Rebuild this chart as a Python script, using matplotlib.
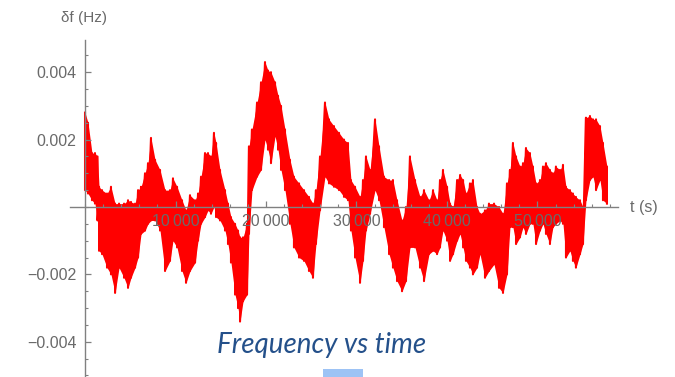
import numpy as np
import matplotlib
matplotlib.use("Agg")
import matplotlib.pyplot as plt
from matplotlib.patches import Rectangle
from matplotlib.ticker import MultipleLocator, FixedLocator, FixedFormatter

# time (s) and upper / lower edge of the noisy trace (mHz)
t = [0, 330, 770, 1100, 1380, 1550, 1880, 2430, 2870, 3320,
     3760, 4310, 4750, 5080, 5530, 5860, 6190, 6630, 6960, 7290,
     7740, 8290, 8840, 9390, 9720, 10170, 10720, 11160, 11600, 12160,
     12490, 12820, 13260, 13590, 13920, 14250, 14480, 14920, 15470, 15800,
     16130, 16580, 16910, 17130, 17460, 17900, 18120, 18450, 19010, 19450,
     19890, 20220, 20550, 21000, 21330, 21660, 22100, 22650, 23090, 23650,
     24200, 24750, 25190, 25520, 25970, 26520, 26960, 27510, 28070, 28620,
     29060, 29390, 29840, 30390, 30720, 31050, 31500, 32050, 32490, 33040,
     33600, 34030, 34480, 35030, 35470, 35910, 36470, 37020, 37460, 38010,
     38460, 38900, 39230, 39560, 40010, 40340, 40670, 41120, 41450, 41780,
     42100, 42540, 42870, 43320, 43650, 44200, 44640, 45200, 45750, 46190,
     46630, 46960, 47290, 47630, 48070, 48400, 48730, 49170, 49500, 49840,
     50280, 50610, 50940, 51380, 51710, 52040, 52490, 52820, 53150, 53590,
     53920, 54250, 54700, 55030, 55360, 55800, 56140, 56470, 56910, 57240,
     57680]
hi = [2.8, 2.5, 1.6, 1.6, 1.5, 0.6, 0.5, 0.4, 0.6, 0.1,
      0.1, 0.1, 0.2, 0.15, 0.1, 0.5, 0.6, 1.0, 1.3, 2.05,
      1.4, 1.1, 0.5, 0.5, 0.85, 0.6, 0.2, -0.1, 0.35, 0.2,
      0.4, 0.9, 1.6, 1.6, 1.5, 2.2, 1.9, 1.1, 0.5, 0.1,
      -0.3, -0.5, -0.7, -0.9, -0.9, -0.5, 1.8, 2.3, 3.1, 3.7,
      4.3, 4.05, 4.0, 3.7, 3.3, 3.0, 2.3, 1.4, 0.9, 0.7,
      0.5, 0.3, 0.1, 0.5, 1.5, 3.1, 2.6, 2.4, 2.2, 2.0,
      1.9, 0.8, 0.6, 0.3, 0.8, 1.5, 1.1, 2.6, 1.8, 0.9,
      0.8, 0.8, 0.2, -0.4, 0.0, 1.5, 0.8, 0.3, 0.5, 0.2,
      0.5, 0.2, 0.8, 1.1, 0.6, 0.1, 0.0, 0.8, 0.95, 0.8,
      0.4, 0.7, 0.8, 0.0, -0.2, -0.1, 0.1, 0.1, 0.0, -0.2,
      0.7, 1.1, 1.9, 1.5, 1.2, 1.3, 1.75, 1.6, 1.2, 0.7,
      0.8, 1.2, 1.3, 1.1, 1.0, 1.2, 1.1, 1.25, 0.6, 0.5,
      0.4, 0.3, 0.2, 0.0, 2.65, 2.7, 2.6, 2.6, 2.4, 1.9,
      1.2]
lo = [0.5, 0.4, 0.2, 0.1, -0.4, -1.3, -1.4, -1.8, -2.0, -2.55,
      -1.8, -2.1, -2.4, -2.1, -1.8, -1.5, -0.8, -0.7, -0.5, -0.4,
      -0.4, -0.7, -1.9, -1.6, -1.0, -1.2, -1.9, -2.25, -1.9, -1.65,
      -1.0, -0.5, -0.3, -0.1, -0.2, 0.0, -0.3, -0.4, -0.7, -1.1,
      -1.65, -2.6, -3.0, -3.4, -2.8, -2.6, -0.8, 0.5, 0.9, 1.1,
      2.0, 1.7, 1.3, 2.1, 1.7, 1.1, 0.5, -0.5, -1.2, -1.5,
      -1.6, -1.9, -2.1, -1.1, -0.1, 0.9, 0.7, 0.6, 0.5, 0.3,
      0.2, -0.7, -1.5, -2.25, -1.6, -0.7, -0.2, 0.5, 0.2, -0.6,
      -1.4, -1.8, -2.2, -2.5, -2.2, -1.2, -1.2, -1.8, -2.2, -1.4,
      -1.3, -1.4, -1.2, -0.7, -1.0, -1.6, -1.4, -1.0, -0.8, -1.2,
      -1.6, -1.8, -2.0, -1.8, -1.4, -2.1, -1.9, -1.7, -2.4, -2.55,
      -2.0, -0.6, -0.6, -1.1, -0.9, -0.6, -0.8, -0.5, -0.5, -1.1,
      -0.7, -0.5, -0.8, -1.1, -0.6, -0.5, -0.4, -0.5, -1.5, -1.3,
      -1.6, -1.8, -1.4, -1.1, 0.2, 0.8, 0.9, 0.5, 0.8, 0.2,
      0.1]

x_major = [10000, 20000, 30000, 40000, 50000]
x_labels = ["10\u2009000", "20\u2009000", "30\u2009000", "40\u2009000", "50\u2009000"]
y_major = [-0.004, -0.002, 0.002, 0.004]
y_labels = ["\u22120.004", "\u22120.002", "0.002", "0.004"]

t = np.array(t, dtype=float)
hi = np.array(hi) * 1e-3
lo = np.array(lo) * 1e-3

plt.rcParams['font.family'] = ['Liberation Sans', 'DejaVu Sans']
grey = '#6a6a6a'

fig = plt.figure(figsize=(6.75, 3.77), dpi=100)
ax = fig.add_axes([70 / 675, 0, 548 / 675, 337 / 377])
ax.patch.set_alpha(0)

# noisy trace: solid band between the edges plus a zigzag for the spikes
ax.fill_between(t, lo, hi, color='#ff0000', linewidth=0, zorder=1)
ax.plot(np.repeat(t, 2), np.column_stack([hi, lo]).ravel(),
        color='#ff0000', linewidth=1.5, zorder=1)

ax.set_xlim(-1660, 58900)
ax.set_ylim(-0.005045, 0.004955)

ax.spines['left'].set_position(('data', 0))
ax.spines['bottom'].set_position(('data', 0))
ax.spines['right'].set_visible(False)
ax.spines['top'].set_visible(False)
for s in ('left', 'bottom'):
    ax.spines[s].set_color('#808080')
    ax.spines[s].set_linewidth(1.0)
    ax.spines[s].set_zorder(4)

ax.xaxis.set_major_locator(FixedLocator(x_major))
ax.xaxis.set_major_formatter(FixedFormatter(x_labels))
ax.xaxis.set_minor_locator(MultipleLocator(2000))
ax.yaxis.set_major_locator(FixedLocator(y_major))
ax.yaxis.set_major_formatter(FixedFormatter(y_labels))
ax.yaxis.set_minor_locator(MultipleLocator(0.0005))

ax.tick_params(axis='both', which='major', direction='in', length=4.5, width=0.9,
               color='#808080', labelcolor=grey, labelsize=11.5)
ax.tick_params(axis='both', which='minor', direction='in', length=2.5, width=0.8,
               color='#808080')
ax.tick_params(axis='x', pad=5)
ax.tick_params(axis='y', pad=6)

fig.text(84 / 675, 1 - 18 / 377, "\u03b4f (Hz)", color=grey, fontsize=11,
         ha='center', va='center')
fig.text(630 / 675, 1 - 207 / 377, "t (s)", color=grey, fontsize=11.5,
         ha='left', va='center')

fig.text(322 / 675, 1 - 345 / 377, "Frequency vs time", color='#24508a',
         fontsize=20, style='italic', family='Lato', ha='center', va='center')

fig.patches.append(Rectangle((323 / 675, 0), 40 / 675, 8 / 377,
                             transform=fig.transFigure, color='#9dc3f5',
                             linewidth=0))

fig.savefig("out.png", dpi=100)
